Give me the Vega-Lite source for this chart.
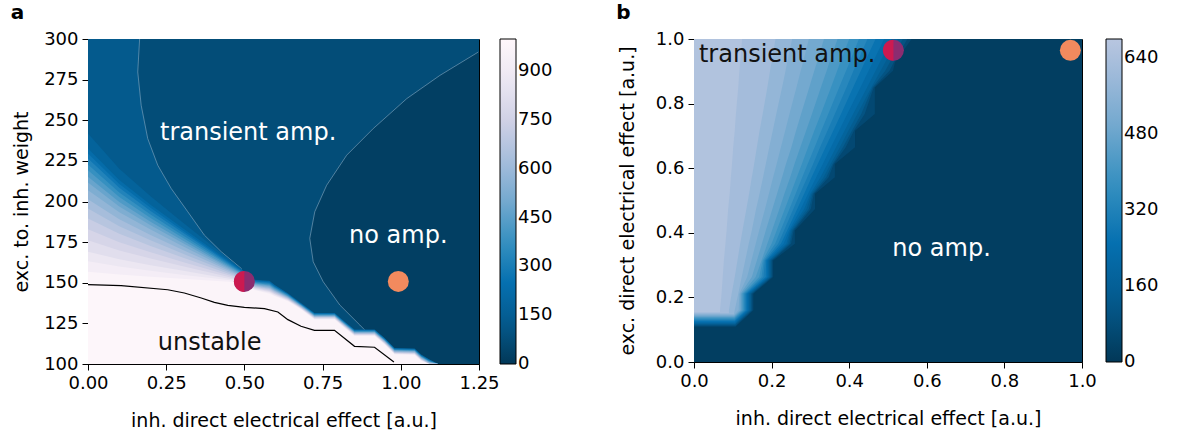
{
"$schema": "https://vega.github.io/schema/vega-lite/v6.json",
"padding": {"left": 10, "top": 2, "right": 0, "bottom": 0},
"background": "white",
"config": {
 "font": "DejaVu Sans",
 "view": {"stroke": "black", "strokeWidth": 1},
 "axis": {"grid": false, "domainColor": "black", "tickColor": "black", "labelColor": "black", "titleColor": "black", "labelFontSize": 18, "titleFontSize": 19, "titleFontWeight": "normal", "tickSize": 6, "labelPadding": 4, "labelFlush": false, "labelOverlap": false, "labelBound": false},
 "axisX": {"titlePadding": 19},
 "legend": {"gradientThickness": 16, "labelFontSize": 18, "labelColor": "black", "gradientStrokeColor": "black", "gradientStrokeWidth": 1, "labelOffset": 13, "padding": 0, "labelOverlap": false, "labelBaseline": "middle"},
 "title": {"fontSize": 20, "fontWeight": "bold", "anchor": "start", "frame": "bounds", "offset": 7, "color": "black"}
},
"datasets": {
 "a_h0": [
  {"c": 75, "y": 100, "x": 1.25}, {"c": 75, "y": 300, "x": 1.25},
  {"c": 125, "y": 150, "x": 0.5}, {"c": 125, "y": 158.8, "x": 0.49}, {"c": 125, "y": 169.1, "x": 0.426}, {"c": 125, "y": 179.3, "x": 0.372}, {"c": 125, "y": 193.7, "x": 0.319}, {"c": 125, "y": 208, "x": 0.266}, {"c": 125, "y": 222.3, "x": 0.223}, {"c": 125, "y": 238.7, "x": 0.191}, {"c": 125, "y": 259.2, "x": 0.17}, {"c": 125, "y": 279.7, "x": 0.159}, {"c": 125, "y": 300, "x": 0.165}
 ],
 "a_noamp": [
  {"c": 25, "y": 100, "x": 1.0}, {"c": 25, "y": 110, "x": 0.95}, {"c": 25, "y": 117.8, "x": 0.901}, {"c": 25, "y": 124, "x": 0.869}, {"c": 25, "y": 136.3, "x": 0.805}, {"c": 25, "y": 150.6, "x": 0.752}, {"c": 25, "y": 162.9, "x": 0.72}, {"c": 25, "y": 177.3, "x": 0.709}, {"c": 25, "y": 193.7, "x": 0.725}, {"c": 25, "y": 210, "x": 0.763}, {"c": 25, "y": 228.5, "x": 0.827}, {"c": 25, "y": 244.9, "x": 0.912}, {"c": 25, "y": 263.3, "x": 1.019}, {"c": 25, "y": 277.6, "x": 1.125}, {"c": 25, "y": 292, "x": 1.248}
 ],
 "a_lev": [
  {"x": 0, "175": 241.8, "225": 232.6, "275": 229.5, "325": 226.4, "375": 222.7, "425": 219.2, "475": 215.2, "525": 211.7, "575": 207, "625": 201.4, "675": 195.7, "725": 189.6, "775": 183, "825": 176.2, "875": 169.1, "925": 163.3, "975": 156.8},
  {"x": 0.1, "175": 220.2, "225": 213.2, "275": 210.8, "325": 208.4, "375": 205.5, "425": 202.8, "475": 199.7, "525": 197, "575": 193.4, "625": 189.1, "675": 184.7, "725": 180.1, "775": 175, "825": 169.9, "875": 164.5, "925": 160, "975": 155.1},
  {"x": 0.2, "175": 203.2, "225": 198, "275": 196.1, "325": 194.2, "375": 192, "425": 189.9, "475": 187.5, "525": 185.4, "575": 182.7, "625": 179.4, "675": 176.1, "725": 172.6, "775": 168.8, "825": 164.9, "875": 160.8, "925": 157.4, "975": 153.7},
  {"x": 0.3, "175": 187.5, "225": 184, "275": 182.5, "325": 181.2, "375": 179.5, "425": 178, "475": 176.3, "525": 174.7, "575": 172.8, "625": 170.5, "675": 168.1, "725": 165.7, "775": 163, "825": 160.3, "875": 157.5, "925": 155, "975": 152.4},
  {"x": 0.4, "175": 172.3, "225": 170.3, "275": 169.3, "325": 168.4, "375": 167.4, "425": 166.4, "475": 165.3, "525": 164.3, "575": 163.1, "625": 161.8, "675": 160.4, "725": 158.9, "775": 157.4, "825": 155.8, "875": 154.2, "925": 152.7, "975": 151.2},
  {"x": 0.5, "175": 157, "225": 156.6, "275": 156.1, "325": 155.7, "375": 155.3, "425": 154.8, "475": 154.4, "525": 153.9, "575": 153.5, "625": 153.1, "675": 152.6, "725": 152.2, "775": 151.8, "825": 151.3, "875": 150.9, "925": 150.4, "975": 150},
  {"x": 0.532, "175": 151.9, "225": 151.5, "275": 151.1, "325": 150.7, "375": 150.3, "425": 149.9, "475": 149.5, "525": 149.1, "575": 148.7, "625": 148.3, "675": 147.9, "725": 147.5, "775": 147.1, "825": 146.7, "875": 146.3, "925": 145.9, "975": 145.5},
  {"x": 0.58, "175": 151.3, "225": 150.8, "275": 150.3, "325": 149.8, "375": 149.3, "425": 148.8, "475": 148.3, "525": 147.8, "575": 147.3, "625": 146.8, "675": 146.3, "725": 145.8, "775": 145.3, "825": 144.8, "875": 144.3, "925": 143.8, "975": 143.3},
  {"x": 0.596, "175": 148.8, "225": 148.4, "275": 147.9, "325": 147.5, "375": 147.1, "425": 146.6, "475": 146.2, "525": 145.7, "575": 145.3, "625": 144.9, "675": 144.4, "725": 144, "775": 143.6, "825": 143.1, "875": 142.7, "925": 142.2, "975": 141.8},
  {"x": 0.639, "175": 143.6, "225": 143.3, "275": 143, "325": 142.7, "375": 142.4, "425": 142, "475": 141.7, "525": 141.4, "575": 141.1, "625": 140.8, "675": 140.5, "725": 140.2, "775": 139.9, "825": 139.5, "875": 139.2, "925": 138.9, "975": 138.6},
  {"x": 0.681, "175": 137.5, "225": 137.3, "275": 137, "325": 136.8, "375": 136.5, "425": 136.3, "475": 136, "525": 135.8, "575": 135.5, "625": 135.3, "675": 135, "725": 134.8, "775": 134.5, "825": 134.3, "875": 134, "925": 133.8, "975": 133.5},
  {"x": 0.724, "175": 131.4, "225": 131.2, "275": 130.9, "325": 130.7, "375": 130.4, "425": 130.2, "475": 129.9, "525": 129.7, "575": 129.4, "625": 129.2, "675": 128.9, "725": 128.7, "775": 128.4, "825": 128.2, "875": 127.9, "925": 127.7, "975": 127.4},
  {"x": 0.788, "175": 131.4, "225": 131.2, "275": 130.9, "325": 130.7, "375": 130.4, "425": 130.2, "475": 129.9, "525": 129.7, "575": 129.4, "625": 129.2, "675": 128.9, "725": 128.7, "775": 128.4, "825": 128.2, "875": 127.9, "925": 127.7, "975": 127.4},
  {"x": 0.82, "175": 126.2, "225": 126, "275": 125.7, "325": 125.5, "375": 125.2, "425": 125, "475": 124.7, "525": 124.5, "575": 124.2, "625": 124, "675": 123.7, "725": 123.5, "775": 123.2, "825": 123, "875": 122.7, "925": 122.5, "975": 122.2},
  {"x": 0.852, "175": 121.2, "225": 121, "275": 120.7, "325": 120.5, "375": 120.2, "425": 120, "475": 119.7, "525": 119.5, "575": 119.2, "625": 119, "675": 118.7, "725": 118.5, "775": 118.2, "825": 118, "875": 117.7, "925": 117.5, "975": 117.2},
  {"x": 0.916, "175": 121.2, "225": 121, "275": 120.7, "325": 120.5, "375": 120.2, "425": 120, "475": 119.7, "525": 119.5, "575": 119.2, "625": 119, "675": 118.7, "725": 118.5, "775": 118.2, "825": 118, "875": 117.7, "925": 117.5, "975": 117.2},
  {"x": 0.948, "175": 116, "225": 115.8, "275": 115.5, "325": 115.3, "375": 115, "425": 114.8, "475": 114.5, "525": 114.3, "575": 114, "625": 113.8, "675": 113.5, "725": 113.3, "775": 113, "825": 112.8, "875": 112.5, "925": 112.3, "975": 112},
  {"x": 0.98, "175": 109.8, "225": 109.6, "275": 109.3, "325": 109.1, "375": 108.8, "425": 108.6, "475": 108.3, "525": 108.1, "575": 107.8, "625": 107.6, "675": 107.3, "725": 107.1, "775": 106.8, "825": 106.6, "875": 106.3, "925": 106.1, "975": 105.8},
  {"x": 1.044, "175": 109.5, "225": 109.3, "275": 109, "325": 108.8, "375": 108.5, "425": 108.3, "475": 108, "525": 107.8, "575": 107.5, "625": 107.3, "675": 107, "725": 106.8, "775": 106.5, "825": 106.3, "875": 106, "925": 105.8, "975": 105.5},
  {"x": 1.065, "175": 105.8, "225": 105.6, "275": 105.3, "325": 105.1, "375": 104.8, "425": 104.6, "475": 104.3, "525": 104.1, "575": 103.8, "625": 103.6, "675": 103.3, "725": 103.1, "775": 102.8, "825": 102.6, "875": 102.3, "925": 102.1, "975": 101.8},
  {"x": 1.09, "175": 102.9, "225": 102.7, "275": 102.4, "325": 102.2, "375": 101.9, "425": 101.7, "475": 101.4, "525": 101.2, "575": 100.9, "625": 100.7, "675": 100.4, "725": 100.2, "775": 100, "825": 100, "875": 100, "925": 100, "975": 100},
  {"x": 1.119, "175": 100, "225": 100, "275": 100, "325": 100, "375": 100, "425": 100, "475": 100, "525": 100, "575": 100, "625": 100, "675": 100, "725": 100, "775": 100, "825": 100, "875": 100, "925": 100, "975": 100}
 ],
 "a_unst": [
  {"c": 990, "x": 0, "y": 148.8}, {"c": 990, "x": 0.106, "y": 148.2}, {"c": 990, "x": 0.255, "y": 145.7}, {"c": 990, "x": 0.308, "y": 143.7}, {"c": 990, "x": 0.362, "y": 140.6}, {"c": 990, "x": 0.404, "y": 137.9}, {"c": 990, "x": 0.447, "y": 136.1}, {"c": 990, "x": 0.5, "y": 134.9}, {"c": 990, "x": 0.564, "y": 134.1}, {"c": 990, "x": 0.607, "y": 132}, {"c": 990, "x": 0.639, "y": 127.3}, {"c": 990, "x": 0.681, "y": 123.2}, {"c": 990, "x": 0.724, "y": 120.7}, {"c": 990, "x": 0.788, "y": 120.7}, {"c": 990, "x": 0.852, "y": 110.9}, {"c": 990, "x": 0.916, "y": 110.3}, {"c": 990, "x": 0.978, "y": 101.2}
 ],
 "a_pair": [{"x": 0.5, "y": 150.8}],
 "a_orange": [{"x": 0.992, "y": 150.8}],
 "a_txt_w": [{"x": 0.512, "y": 242, "t": "transient amp."}, {"x": 0.992, "y": 178.5, "t": "no amp."}],
 "a_txt_k": [{"x": 0.389, "y": 112.9, "t": "unstable"}],
 "b_bg": [{"c": 20, "y": 0, "x": 1}, {"c": 20, "y": 1, "x": 1}],
 "b_lev": [
  {"y": 0.109, "60": 0.107},
  {"y": 0.112, "100": 0.107},
  {"y": 0.115, "140": 0.106},
  {"y": 0.118, "180": 0.106},
  {"y": 0.121, "220": 0.106},
  {"y": 0.124, "260": 0.105},
  {"y": 0.127, "300": 0.105},
  {"y": 0.13, "340": 0.105},
  {"y": 0.133, "380": 0.104},
  {"y": 0.136, "420": 0.104},
  {"y": 0.139, "460": 0.104},
  {"y": 0.142, "500": 0.103},
  {"y": 0.145, "540": 0.103},
  {"y": 0.148, "580": 0.103},
  {"y": 0.151, "620": 0.09},
  {"y": 0.154, "660": 0.067},
  {"y": 0.16, "60": 0.153, "100": 0.150, "140": 0.147, "180": 0.144, "220": 0.141, "260": 0.138, "300": 0.135, "340": 0.132, "380": 0.129, "420": 0.126, "460": 0.123, "500": 0.120, "540": 0.115, "580": 0.105, "620": 0.090, "660": 0.067},
  {"y": 0.211, "60": 0.153, "100": 0.150, "140": 0.147, "180": 0.144, "220": 0.141, "260": 0.138, "300": 0.135, "340": 0.132, "380": 0.129, "420": 0.126, "460": 0.123, "500": 0.120, "540": 0.117, "580": 0.114, "620": 0.097, "660": 0.071},
  {"y": 0.263, "60": 0.204, "100": 0.201, "140": 0.198, "180": 0.195, "220": 0.192, "260": 0.189, "300": 0.185, "340": 0.179, "380": 0.174, "420": 0.168, "460": 0.159, "500": 0.149, "540": 0.137, "580": 0.123, "620": 0.105, "660": 0.074},
  {"y": 0.314, "60": 0.204, "100": 0.201, "140": 0.198, "180": 0.195, "220": 0.192, "260": 0.189, "300": 0.186, "340": 0.183, "380": 0.180, "420": 0.177, "460": 0.174, "500": 0.162, "540": 0.148, "580": 0.132, "620": 0.112, "660": 0.077},
  {"y": 0.366, "60": 0.260, "100": 0.250, "140": 0.246, "180": 0.242, "220": 0.238, "260": 0.231, "300": 0.224, "340": 0.217, "380": 0.209, "420": 0.200, "460": 0.189, "500": 0.175, "540": 0.159, "580": 0.141, "620": 0.119, "660": 0.081},
  {"y": 0.407, "60": 0.260, "100": 0.257, "140": 0.254, "180": 0.251, "220": 0.248, "260": 0.245, "300": 0.240, "340": 0.232, "380": 0.223, "420": 0.213, "460": 0.201, "500": 0.185, "540": 0.168, "580": 0.149, "620": 0.125, "660": 0.084},
  {"y": 0.474, "60": 0.312, "100": 0.301, "140": 0.296, "180": 0.290, "220": 0.284, "260": 0.275, "300": 0.266, "340": 0.256, "380": 0.246, "420": 0.234, "460": 0.220, "500": 0.202, "540": 0.183, "580": 0.160, "620": 0.135, "660": 0.088},
  {"y": 0.521, "60": 0.312, "100": 0.309, "140": 0.306, "180": 0.303, "220": 0.300, "260": 0.294, "300": 0.284, "340": 0.273, "380": 0.262, "420": 0.249, "460": 0.233, "500": 0.214, "540": 0.193, "580": 0.169, "620": 0.142, "660": 0.092},
  {"y": 0.572, "60": 0.363, "100": 0.347, "140": 0.341, "180": 0.334, "220": 0.326, "260": 0.315, "300": 0.303, "340": 0.292, "380": 0.279, "420": 0.265, "460": 0.248, "500": 0.227, "540": 0.204, "580": 0.178, "620": 0.149, "660": 0.095},
  {"y": 0.613, "60": 0.363, "100": 0.360, "140": 0.357, "180": 0.352, "220": 0.344, "260": 0.332, "300": 0.319, "340": 0.307, "380": 0.293, "420": 0.278, "460": 0.259, "500": 0.237, "540": 0.213, "580": 0.185, "620": 0.155, "660": 0.098},
  {"y": 0.665, "60": 0.415, "100": 0.391, "140": 0.384, "180": 0.376, "220": 0.366, "260": 0.353, "300": 0.339, "340": 0.325, "380": 0.311, "420": 0.294, "460": 0.274, "500": 0.251, "540": 0.224, "580": 0.194, "620": 0.162, "660": 0.101},
  {"y": 0.716, "60": 0.415, "100": 0.412, "140": 0.407, "180": 0.398, "220": 0.388, "260": 0.374, "300": 0.359, "340": 0.344, "380": 0.328, "420": 0.310, "460": 0.289, "500": 0.263, "540": 0.235, "580": 0.203, "620": 0.169, "660": 0.105},
  {"y": 0.768, "60": 0.466, "100": 0.440, "140": 0.431, "180": 0.421, "220": 0.410, "260": 0.395, "300": 0.379, "340": 0.363, "380": 0.346, "420": 0.327, "460": 0.304, "500": 0.276, "540": 0.246, "580": 0.212, "620": 0.177, "660": 0.108},
  {"y": 0.85, "60": 0.466, "100": 0.463, "140": 0.460, "180": 0.457, "220": 0.446, "260": 0.429, "300": 0.410, "340": 0.393, "380": 0.374, "420": 0.353, "460": 0.327, "500": 0.297, "540": 0.264, "580": 0.227, "620": 0.189, "660": 0.114},
  {"y": 0.902, "60": 0.513, "100": 0.504, "140": 0.493, "180": 0.481, "220": 0.468, "260": 0.450, "300": 0.430, "340": 0.411, "380": 0.392, "420": 0.369, "460": 0.342, "500": 0.310, "540": 0.275, "580": 0.236, "620": 0.196, "660": 0.117},
  {"y": 0.928, "60": 0.518, "100": 0.515, "140": 0.505, "180": 0.493, "220": 0.479, "260": 0.461, "300": 0.440, "340": 0.421, "380": 0.401, "420": 0.377, "460": 0.349, "500": 0.317, "540": 0.281, "580": 0.240, "620": 0.200, "660": 0.119},
  {"y": 1.0, "60": 0.561, "100": 0.550, "140": 0.538, "180": 0.525, "220": 0.510, "260": 0.490, "300": 0.468, "340": 0.447, "380": 0.425, "420": 0.400, "460": 0.370, "500": 0.335, "540": 0.296, "580": 0.253, "620": 0.210, "660": 0.124}
 ],
 "b_pair": [{"x": 0.514, "y": 0.965}],
 "b_orange": [{"x": 0.97, "y": 0.965}],
 "b_txt_k": [{"x": 0.24, "y": 0.952, "t": "transient amp."}],
 "b_txt_w": [{"x": 0.638, "y": 0.351, "t": "no amp."}]
},
"resolve": {"scale": {"color": "independent"}},
"spacing": 61,
"hconcat": [
 {
  "title": {"text": "a", "dx": -2},
  "width": 391, "height": 325,
  "layer": [
   {"data": {"name": "a_h0"}, "mark": {"type": "area", "orient": "horizontal", "clip": true},
    "encoding": {
     "x": {"field": "x", "type": "quantitative", "stack": null, "scale": {"domain": [0, 1.25], "nice": false, "zero": false}, "axis": {"values": [0, 0.25, 0.5, 0.75, 1, 1.25], "format": ".2f", "title": "inh. direct electrical effect [a.u.]"}},
     "x2": {"datum": 0},
     "y": {"field": "y", "type": "quantitative", "scale": {"domain": [100, 300], "nice": false, "zero": false}, "axis": {"values": [100, 125, 150, 175, 200, 225, 250, 275, 300], "format": "d", "title": "exc. to. inh. weight", "titlePadding": 12}},
     "color": {"field": "c", "type": "quantitative", "scale": {"domain": [-1, 125, 250, 375, 500, 625, 750, 875, 1000], "range": ["#023858", "#045a8d", "#0570b0", "#3690c0", "#74a9cf", "#a6bddb", "#d0d1e6", "#ece7f2", "#fff7fb"], "interpolate": "rgb"}, "legend": {"title": null, "values": [0, 150, 300, 450, 600, 750, 900], "offset": 21, "gradientLength": 325}}
    }},
   {"data": {"name": "a_noamp"}, "mark": {"type": "area", "orient": "horizontal", "clip": true},
    "encoding": {
     "x": {"field": "x", "type": "quantitative", "stack": null},
     "x2": {"datum": 1.25},
     "y": {"field": "y", "type": "quantitative"},
     "color": {"field": "c", "type": "quantitative"}
    }},
   {"data": {"name": "a_noamp"}, "mark": {"type": "line", "clip": true, "stroke": "#8fb0c8", "strokeWidth": 0.8, "opacity": 0.7},
    "encoding": {
     "x": {"field": "x", "type": "quantitative"},
     "y": {"field": "y", "type": "quantitative"},
     "order": {"field": "y", "type": "quantitative"}
    }},
   {"data": {"name": "a_h0"}, "transform": [{"filter": {"field": "c", "equal": 125}}], "mark": {"type": "line", "clip": true, "stroke": "#8fb0c8", "strokeWidth": 0.8, "opacity": 0.7},
    "encoding": {
     "x": {"field": "x", "type": "quantitative"},
     "y": {"field": "y", "type": "quantitative"},
     "order": {"field": "y", "type": "quantitative"}
    }},
   {"data": {"name": "a_lev"},
    "transform": [{"fold": ["175", "225", "275", "325", "375", "425", "475", "525", "575", "625", "675", "725", "775", "825", "875", "925", "975"], "as": ["c", "y"]}],
    "mark": {"type": "area", "orient": "vertical", "clip": true},
    "encoding": {
     "x": {"field": "x", "type": "quantitative"},
     "y": {"field": "y", "type": "quantitative", "stack": null},
     "y2": {"datum": 100},
     "color": {"field": "c", "type": "quantitative"}
    }},
   {"data": {"name": "a_unst"}, "mark": {"type": "area", "orient": "vertical", "clip": true},
    "encoding": {
     "x": {"field": "x", "type": "quantitative"},
     "y": {"field": "y", "type": "quantitative", "stack": null},
     "y2": {"datum": 100},
     "color": {"field": "c", "type": "quantitative"}
    }},
   {"data": {"name": "a_unst"}, "mark": {"type": "line", "clip": true, "color": "black", "strokeWidth": 1.2},
    "encoding": {
     "x": {"field": "x", "type": "quantitative"},
     "y": {"field": "y", "type": "quantitative"}
    }},
   {"data": {"name": "a_orange"}, "mark": {"type": "point", "filled": true, "size": 440, "shape": "circle", "color": "#f28a5e", "opacity": 1, "strokeWidth": 0},
    "encoding": {"x": {"field": "x", "type": "quantitative"}, "y": {"field": "y", "type": "quantitative"}}},
   {"data": {"name": "a_pair"}, "mark": {"type": "point", "filled": true, "size": 440, "shape": "circle", "color": "#8b2c70", "opacity": 1, "strokeWidth": 0},
    "encoding": {"x": {"field": "x", "type": "quantitative"}, "y": {"field": "y", "type": "quantitative"}}},
   {"data": {"name": "a_pair"}, "mark": {"type": "point", "filled": true, "size": 440, "shape": "M0,-1A1,1,0,0,0,0,1Z", "color": "#cc1a50", "opacity": 1, "strokeWidth": 0},
    "encoding": {"x": {"field": "x", "type": "quantitative"}, "y": {"field": "y", "type": "quantitative"}}},
   {"data": {"name": "a_txt_w"}, "mark": {"type": "text", "fontSize": 24, "color": "white", "align": "center", "baseline": "middle"},
    "encoding": {"x": {"field": "x", "type": "quantitative"}, "y": {"field": "y", "type": "quantitative"}, "text": {"field": "t"}}},
   {"data": {"name": "a_txt_k"}, "mark": {"type": "text", "fontSize": 24, "color": "#111111", "align": "center", "baseline": "middle"},
    "encoding": {"x": {"field": "x", "type": "quantitative"}, "y": {"field": "y", "type": "quantitative"}, "text": {"field": "t"}}}
  ]
 },
 {
  "title": {"text": "b", "dx": -2},
  "width": 388, "height": 323,
  "layer": [
   {"data": {"name": "b_bg"}, "mark": {"type": "area", "orient": "horizontal", "clip": true},
    "encoding": {
     "x": {"field": "x", "type": "quantitative", "stack": null, "scale": {"domain": [0, 1], "nice": false, "zero": false}, "axis": {"values": [0, 0.2, 0.4, 0.6, 0.8, 1], "format": ".1f", "title": "inh. direct electrical effect [a.u.]"}},
     "x2": {"datum": 0},
     "y": {"field": "y", "type": "quantitative", "scale": {"domain": [0, 1], "nice": false, "zero": false}, "axis": {"values": [0, 0.2, 0.4, 0.6, 0.8, 1], "format": ".1f", "title": "exc. direct electrical effect [a.u.]", "titlePadding": 18}},
     "color": {"field": "c", "type": "quantitative", "scale": {"domain": [-1, 125, 250, 375, 500, 625, 680], "range": ["#023858", "#045a8d", "#0570b0", "#3690c0", "#74a9cf", "#a6bddb", "#b8c6e0"], "interpolate": "rgb"}, "legend": {"title": null, "values": [0, 160, 320, 480, 640], "offset": 24, "gradientLength": 323}}
    }},
   {"data": {"name": "b_lev"},
    "transform": [{"fold": ["60", "100", "140", "180", "220", "260", "300", "340", "380", "420", "460", "500", "540", "580", "620", "660"], "as": ["c", "x"]}, {"filter": {"field": "x", "valid": true}}],
    "mark": {"type": "area", "orient": "horizontal", "clip": true},
    "encoding": {
     "x": {"field": "x", "type": "quantitative", "stack": null},
     "x2": {"datum": 0},
     "y": {"field": "y", "type": "quantitative"},
     "color": {"field": "c", "type": "quantitative"}
    }},
   {"data": {"name": "b_orange"}, "mark": {"type": "point", "filled": true, "size": 440, "shape": "circle", "color": "#f28a5e", "opacity": 1, "strokeWidth": 0},
    "encoding": {"x": {"field": "x", "type": "quantitative"}, "y": {"field": "y", "type": "quantitative"}}},
   {"data": {"name": "b_pair"}, "mark": {"type": "point", "filled": true, "size": 440, "shape": "circle", "color": "#8b2c70", "opacity": 1, "strokeWidth": 0},
    "encoding": {"x": {"field": "x", "type": "quantitative"}, "y": {"field": "y", "type": "quantitative"}}},
   {"data": {"name": "b_pair"}, "mark": {"type": "point", "filled": true, "size": 440, "shape": "M0,-1A1,1,0,0,0,0,1Z", "color": "#cc1a50", "opacity": 1, "strokeWidth": 0},
    "encoding": {"x": {"field": "x", "type": "quantitative"}, "y": {"field": "y", "type": "quantitative"}}},
   {"data": {"name": "b_txt_k"}, "mark": {"type": "text", "fontSize": 24, "color": "#111111", "align": "center", "baseline": "middle"},
    "encoding": {"x": {"field": "x", "type": "quantitative"}, "y": {"field": "y", "type": "quantitative"}, "text": {"field": "t"}}},
   {"data": {"name": "b_txt_w"}, "mark": {"type": "text", "fontSize": 24, "color": "white", "align": "center", "baseline": "middle"},
    "encoding": {"x": {"field": "x", "type": "quantitative"}, "y": {"field": "y", "type": "quantitative"}, "text": {"field": "t"}}}
  ]
 }
]
}
